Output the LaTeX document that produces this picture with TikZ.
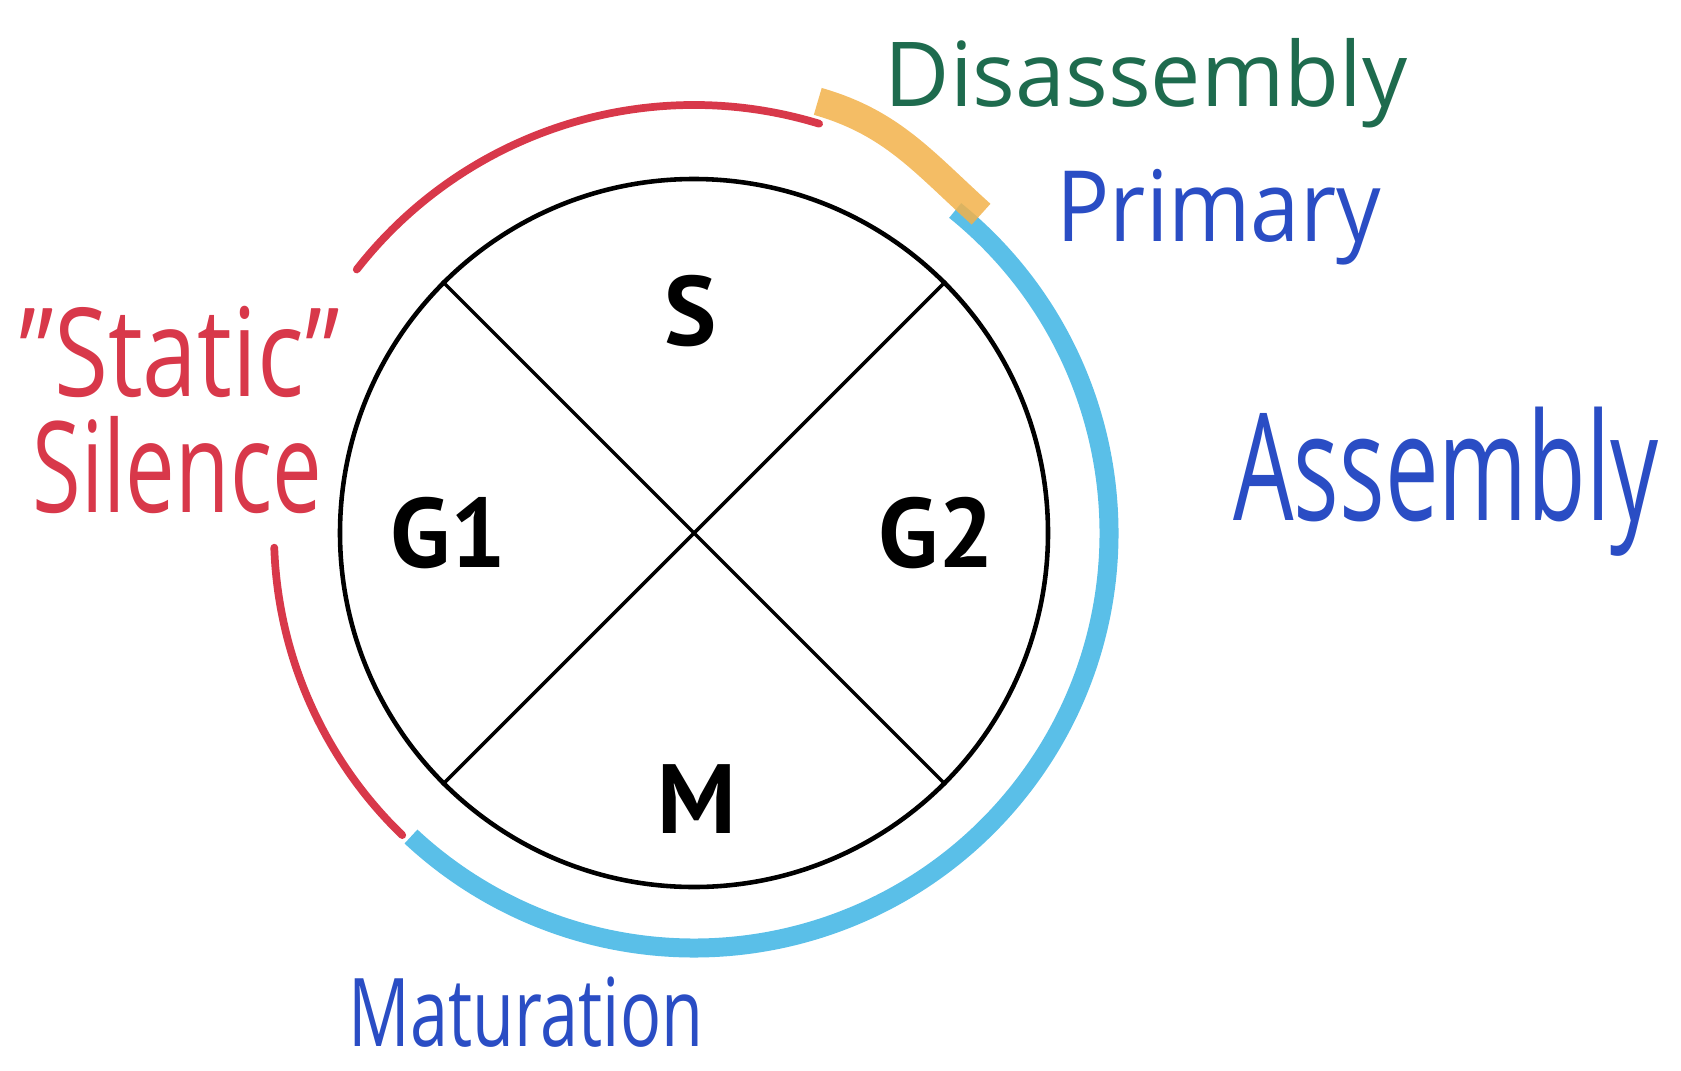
\documentclass[tikz,border=0pt]{standalone}
\usepackage{fontspec}
\setmainfont{Open Sans}
\newfontfamily\phasefont{PT Sans}
\newcommand\fsz[1]{\fontsize{#1}{#1}\selectfont}
\definecolor{markred}{HTML}{D8384A}
\definecolor{markgreen}{HTML}{1E6B4E}
\definecolor{markblue}{HTML}{2A4DC4}
\definecolor{markcyan}{HTML}{5ABFE8}
\definecolor{markorange}{HTML}{F2B24A}

\begin{document}
\begin{tikzpicture}[
    phase/.style={inner sep=0pt, font=\phasefont\bfseries\fsz{28}},
    hand/.style={inner sep=0pt, anchor=base west},
    redpen/.style={markred, line width=2.2pt, line cap=round},
    cyanpen/.style={markcyan, line width=0.19cm},
    orangepen/.style={markorange, line width=0.28cm, opacity=0.85}
]
    \useasboundingbox (0,0) rectangle (16.81,10.70);
    \coordinate (c) at (6.94,5.37);

    % Cell cycle
    \node[draw, circle, line width=1.3pt, minimum size=7.08cm, inner sep=0pt] (cyc) at (c) {};
    \draw[line width=1pt] (cyc.45) -- (cyc.225);
    \draw[line width=1pt] (cyc.135) -- (cyc.315);

    % Phases
    \node[phase] (S) at (6.91,7.59) {S};
    \node[phase] (G1) at (4.48,5.37) {G1};
    \node[phase] (G2) at (9.36,5.37) {G2};
    \node[phase] (M) at (6.97,2.71) {M};

    % Marker arcs round the cycle
    \begin{scope}[shift={(c)}]
        \draw[redpen] (73:4.28) arc[start angle=73, end angle=142, radius=4.28];
        \draw[redpen] (182:4.2) arc[start angle=182, end angle=226, radius=4.2];
        \draw[cyanpen] (51:4.15) arc[start angle=51, end angle=-133, radius=4.15];
        \draw[orangepen] (74:4.49) to[out=-16, in=138] (48:4.29);
    \end{scope}

    % Labels
    \node[hand, markgreen, font=\fsz{25.5}] (dis) at (8.84,9.63) {Disassembly};
    \node[hand, markblue, font=\fsz{28}, xscale=0.9] (prim) at (10.56,8.29) {Primary};
    \node[hand, markblue, font=\fsz{42.5}, xscale=0.64] (asm) at (12.33,5.50) {Assembly};
    \node[hand, markblue, font=\fsz{27}, xscale=0.72] (mat) at (3.48,0.24) {Maturation};
    \node[hand, markred, font=\fsz{35}, xscale=0.8] (stat) at (0.19,6.74) {"Static"};
    \node[hand, markred, font=\fsz{36}, xscale=0.7] (sil) at (0.32,5.58) {Silence};
\end{tikzpicture}
\end{document}
